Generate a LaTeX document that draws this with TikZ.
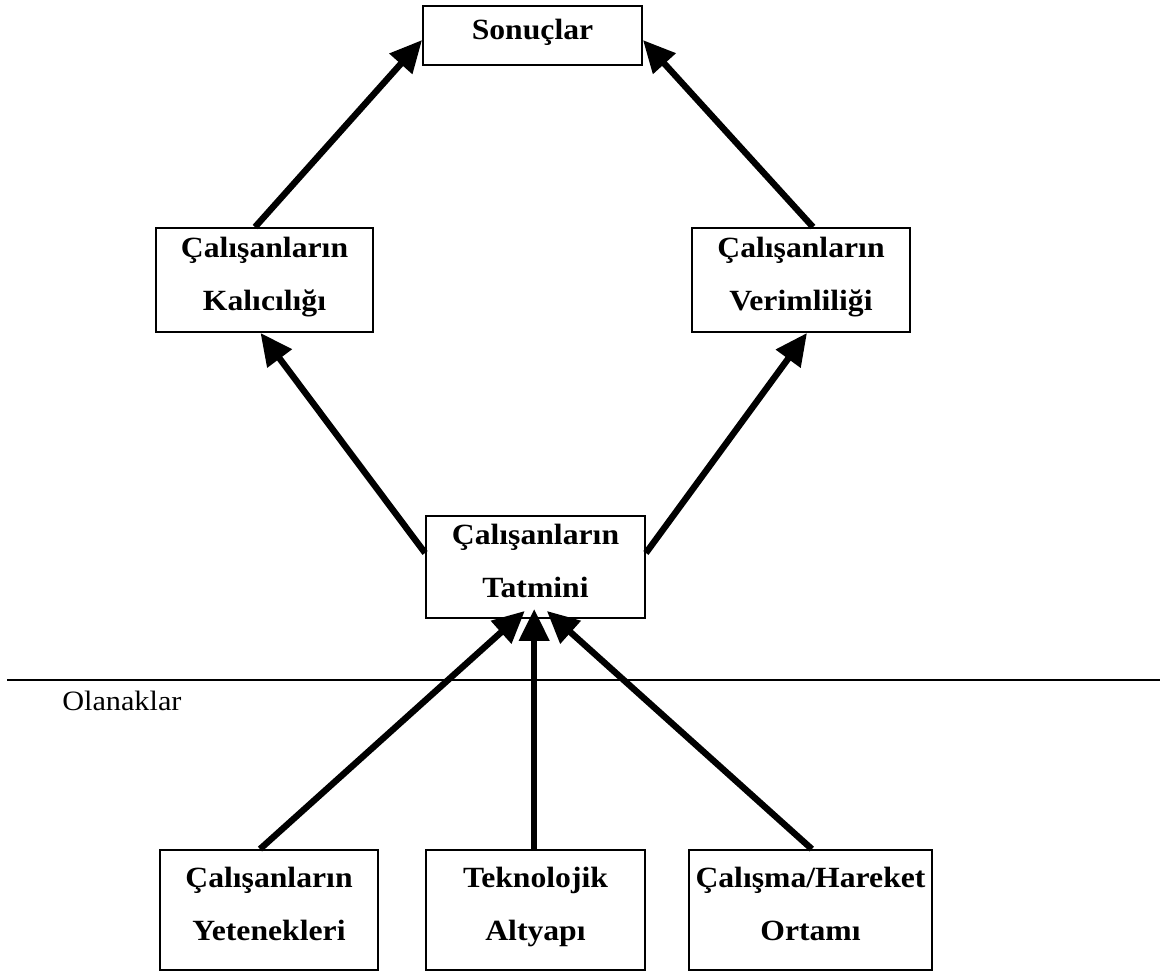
\documentclass[tikz,border=0pt]{standalone}
\usepackage{fontspec}
\setmainfont{Liberation Serif}[FakeStretch=1.08]
\usetikzlibrary{arrows.meta}
\newcommand\bst{\rule[-12.5pt]{0pt}{30.5pt}}
\newcommand\sst{\rule[-10pt]{0pt}{20pt}}
\begin{document}
\begin{tikzpicture}[x=0.75pt,y=-0.75pt,
  box/.style={draw,line width=1.4pt,align=center,inner sep=0pt,
    font=\fontsize{22}{40}\selectfont\bfseries},
  conn/.style={line width=4.8pt,-{Triangle[length=24pt,width=22pt]}}]
\useasboundingbox (0,0) rectangle (1160,974);
\node[box,minimum width=219*0.75pt,minimum height=59*0.75pt] (son) at (532.5,35.5) {\sst Sonuçlar};
\node[box,minimum width=217*0.75pt,minimum height=104*0.75pt] (kal) at (264.5,280) {\bst Çalışanların\\\bst Kalıcılığı};
\node[box,minimum width=218*0.75pt,minimum height=104*0.75pt] (ver) at (801,280) {\bst Çalışanların\\\bst Verimliliği};
\node[box,minimum width=219*0.75pt,minimum height=102*0.75pt] (tat) at (535.5,567) {\bst Çalışanların\\\bst Tatmini};
\node[box,minimum width=218*0.75pt,minimum height=120*0.75pt] (yet) at (269,910) {\bst Çalışanların\\\bst Yetenekleri};
\node[box,minimum width=219*0.75pt,minimum height=120*0.75pt] (tek) at (535.5,910) {\bst Teknolojik\\\bst Altyapı};
\node[box,minimum width=243*0.75pt,minimum height=120*0.75pt] (cal) at (810.5,910) {\bst Çalışma/Hareket\\\bst Ortamı};
\coordinate (l0) at (7,680);
\coordinate (l1) at (1160,680);
\draw[line width=2pt] (l0) -- (l1);
\node[anchor=base west,inner sep=0pt,font=\fontsize{21}{26}\selectfont] (ola) at (62,710) {Olanaklar};
\draw[conn] ([xshift=-7.1pt]kal.north) -- ([yshift=-3.4pt]son.west);
\draw[conn] ([xshift=9pt]ver.north) -- ([yshift=-3.4pt]son.east);
\draw[conn] ([yshift=10.5pt]tat.west) -- ([xshift=-3pt]kal.south);
\draw[conn] ([yshift=10.5pt]tat.east) -- ([xshift=4.5pt]ver.south);
\draw[conn] ([xshift=-6.75pt]yet.north) -- ([xshift=-8pt,yshift=6pt]tat.south);
\draw[conn] ([xshift=-1pt]tek.north) -- ([xshift=-1pt,yshift=7.5pt]tat.south);
\draw[conn] ([xshift=1pt]cal.north) -- ([xshift=8.5pt,yshift=6pt]tat.south);
\end{tikzpicture}
\end{document}
